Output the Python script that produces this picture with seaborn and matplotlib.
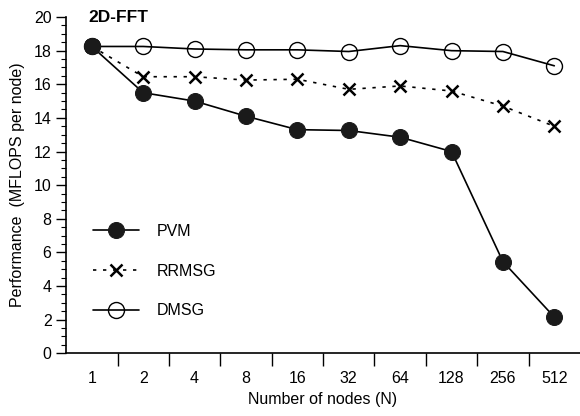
import numpy as np
import pandas as pd
import seaborn as sns
from matplotlib import pyplot as plt
from matplotlib.ticker import MultipleLocator, FixedLocator

# data
nodes = ['1', '2', '4', '8', '16', '32', '64', '128', '256', '512']
pvm = [18.25, 15.5, 15.0, 14.1, 13.3, 13.25, 12.85, 12.0, 5.45, 2.15]
rrmsg = [18.25, 16.45, 16.45, 16.25, 16.3, 15.7, 15.9, 15.6, 14.7, 13.5]
dmsg = [18.25, 18.25, 18.1, 18.05, 18.05, 17.95, 18.3, 18.0, 17.95, 17.1]

sns.set_theme(style='ticks')
plt.rcParams['font.family'] = ['Liberation Sans', 'DejaVu Sans']
plt.rcParams['text.color'] = 'black'
plt.rcParams['axes.labelcolor'] = 'black'
plt.rcParams['xtick.color'] = 'black'
plt.rcParams['ytick.color'] = 'black'
fs = 11.5

pos = np.arange(len(nodes))
df = pd.DataFrame({'pos': pos, 'PVM': pvm, 'RRMSG': rrmsg, 'DMSG': dmsg})

fig = plt.figure(figsize=(5.8, 4.16), dpi=100)
ax = fig.add_axes([0.114, 0.151, 0.886, 0.808])

# draw back to front so the filled circle sits on top at N=1
sns.lineplot(data=df, x='pos', y='DMSG', ax=ax, color='black', lw=1.2,
             marker='o', markersize=11.5, markerfacecolor='none',
             markeredgecolor='black', markeredgewidth=1.0, label='DMSG')
sns.lineplot(data=df, x='pos', y='RRMSG', ax=ax, color='black', lw=1.2,
             linestyle=(0, (2, 4)), marker='x', markersize=9,
             markeredgewidth=1.8, markeredgecolor='black', label='RRMSG')
sns.lineplot(data=df, x='pos', y='PVM', ax=ax, color='black', lw=1.2,
             marker='o', markersize=11.5, markerfacecolor='#1a1a1a',
             markeredgecolor='#1a1a1a', label='PVM')

ax.set_xlim(-0.5, 9.5)
ax.set_ylim(0, 20)
ax.xaxis.set_major_locator(FixedLocator(pos))
ax.set_xticklabels(nodes)
ax.xaxis.set_minor_locator(FixedLocator(pos[:-1] + 0.5))
ax.tick_params(axis='x', which='major', length=0, pad=13, labelsize=fs, labelcolor='black')
ax.tick_params(axis='x', which='minor', length=9, width=1, direction='out', color='black')
ax.yaxis.set_major_locator(MultipleLocator(2))
ax.yaxis.set_minor_locator(MultipleLocator(0.5))
ax.tick_params(axis='y', which='major', length=7, width=1, color='black', labelsize=fs,
               labelcolor='black')
ax.tick_params(axis='y', which='minor', length=3.5, width=0.8, color='black')

sns.despine(ax=ax)
for s in ['left', 'bottom']:
    ax.spines[s].set_color('black')
    ax.spines[s].set_linewidth(1.2)

ax.set_xlabel('Number of nodes (N)', fontsize=fs, labelpad=4, color='black')
ax.set_ylabel('Performance  (MFLOPS per node)', fontsize=fs, labelpad=6, color='black')
ax.text(0.043, 1.0, '2D-FFT', transform=ax.transAxes, fontsize=12.5,
        fontweight='bold', va='center', ha='left', color='black')

h, l = ax.get_legend_handles_labels()
order = [2, 1, 0]
leg = ax.legend([h[i] for i in order], [l[i] for i in order],
                loc='upper left', bbox_to_anchor=(0.052, 0.385), frameon=False,
                handlelength=2.9, labelspacing=1.55, handletextpad=1.1,
                borderpad=0, borderaxespad=0, fontsize=fs)
for t in leg.get_texts():
    t.set_color('black')

fig.savefig('out.png', dpi=100)
